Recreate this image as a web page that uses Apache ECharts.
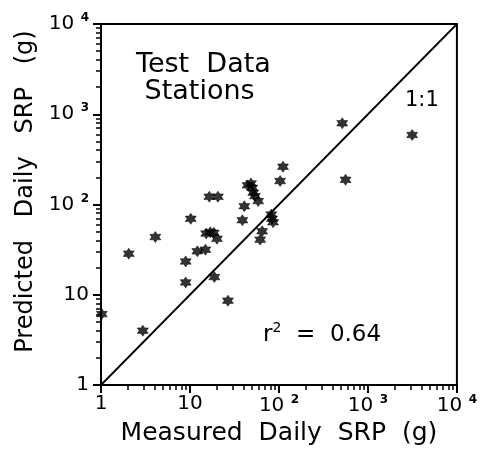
<!DOCTYPE html>
<html>
<head>
<meta charset="utf-8">
<script src="https://cdn.jsdelivr.net/npm/echarts@6/dist/echarts.min.js"></script>
<style>
  html, body { margin: 0; padding: 0; background: #fff; }
  #chart { width: 480px; height: 454px; }
</style>
</head>
<body>
<div id="chart"></div>
<script>
// measured vs predicted daily SRP (g)
const measured = [3140, 514, 560, 111, 103, 44.4, 48.5, 50.1, 51.4, 53.7, 58.4, 40.8, 38.8,
  82, 83.6, 85.8, 64.7, 61.5, 16.5, 20.6, 10.2, 15.2, 16.9, 18.5, 20.1, 12.1, 14.9,
  8.95, 4.08, 2.05, 8.95, 18.8, 26.7, 2.95, 1.02];
const predicted = [589, 794, 188, 262, 182, 163, 171, 153, 135, 124, 109, 95.7, 67,
  77.4, 69.4, 63.6, 50.5, 40.8, 122, 122, 69.4, 47.6, 49.3, 48.5, 41.7, 30.3, 31.6,
  23.4, 43.6, 28.5, 13.7, 15.7, 8.6, 4.0, 6.1];
const oneToOne = [1, 10000];
const decades = [1, 10, 100, 1000];
const minorSteps = [2, 3, 4, 5, 6, 7, 8, 9];

const FONT = 'DejaVu Sans';
const minorVals = [];
decades.forEach(d => minorSteps.forEach(m => minorVals.push(d * m)));

const points = measured.map((m, i) => [m, predicted[i]]);

// asterisk-like marker
const star = 'path://M0,-10 L3,-5 L8.7,-5 L5.8,0 L8.7,5 L3,5 L0,10 L-3,5 L-8.7,5 L-5.8,0 L-8.7,-5 L-3,-5 Z';

function powLabel(v) {
  if (v === 1) return '1';
  if (v === 10) return '10';
  return '10 {s|' + Math.round(Math.log10(v)) + '}';
}

const rich = { s: { fontSize: 12, fontWeight: 'bold', fontFamily: FONT, padding: [0, 0, 12, 0], color: '#000' } };

const myChart = echarts.init(document.getElementById('chart'));

const option = {
  animation: false,
  backgroundColor: '#fff',
  grid: {
    left: 101, right: 19, top: 24, bottom: 69,
    show: true, borderColor: '#000', borderWidth: 2
  },
  xAxis: [
    {
      type: 'log', logBase: 10, min: 1, max: 10000,
      name: 'Measured  Daily  SRP  (g)',
      nameLocation: 'middle', nameGap: 32,
      nameTextStyle: { fontFamily: FONT, fontSize: 25, color: '#000' },
      axisLine: { lineStyle: { color: '#000', width: 2 } },
      axisTick: { length: 8, lineStyle: { color: '#000', width: 2 } },
      axisLabel: { formatter: powLabel, rich: rich, fontFamily: FONT, fontSize: 20, color: '#000', margin: 9 },
      splitLine: { show: false }
    },
    {
      type: 'log', logBase: 10, min: 1, max: 10000, position: 'bottom',
      axisLine: { show: false },
      axisTick: { customValues: minorVals, length: 5, lineStyle: { color: '#000', width: 1.5 } },
      axisLabel: { show: false },
      splitLine: { show: false }
    }
  ],
  yAxis: [
    {
      type: 'log', logBase: 10, min: 1, max: 10000,
      name: 'Predicted   Daily   SRP   (g)',
      nameLocation: 'middle', nameGap: 63,
      nameTextStyle: { fontFamily: FONT, fontSize: 24, color: '#000', padding: [0, 0, 0, 26] },
      axisLine: { lineStyle: { color: '#000', width: 2 } },
      axisTick: { length: 8, lineStyle: { color: '#000', width: 2 } },
      axisLabel: { formatter: powLabel, rich: rich, fontFamily: FONT, fontSize: 20, color: '#000', margin: 12 },
      splitLine: { show: false }
    },
    {
      type: 'log', logBase: 10, min: 1, max: 10000, position: 'left',
      axisLine: { show: false },
      axisTick: { customValues: minorVals, length: 5, lineStyle: { color: '#000', width: 1.5 } },
      axisLabel: { show: false },
      splitLine: { show: false }
    }
  ],
  graphic: [
    {
      type: 'text', left: 136, top: 51,
      style: { text: 'Test  Data\n Stations', font: '27px "DejaVu Sans"', fill: '#000', lineHeight: 27 }
    },
    {
      type: 'text', left: 405, top: 90,
      style: { text: '1:1', font: '21px "DejaVu Sans"', fill: '#000' }
    },
    {
      type: 'text', left: 263, top: 321,
      style: {
        text: 'r{s|2}  =  0.64',
        font: '23px "DejaVu Sans"', fill: '#000',
        rich: { s: { fontSize: 14, fontFamily: FONT, padding: [0, 0, 14, 0] } }
      }
    }
  ],
  series: [
    {
      type: 'line',
      data: oneToOne.map(v => [v, v]),
      symbol: 'none',
      lineStyle: { color: '#000', width: 1.8 },
      silent: true
    },
    {
      type: 'scatter',
      data: points,
      symbol: star,
      symbolSize: 11,
      itemStyle: { color: '#000', borderColor: '#000', borderWidth: 0.6 }
    }
  ]
};
myChart.setOption(option);
</script>
</body>
</html>
